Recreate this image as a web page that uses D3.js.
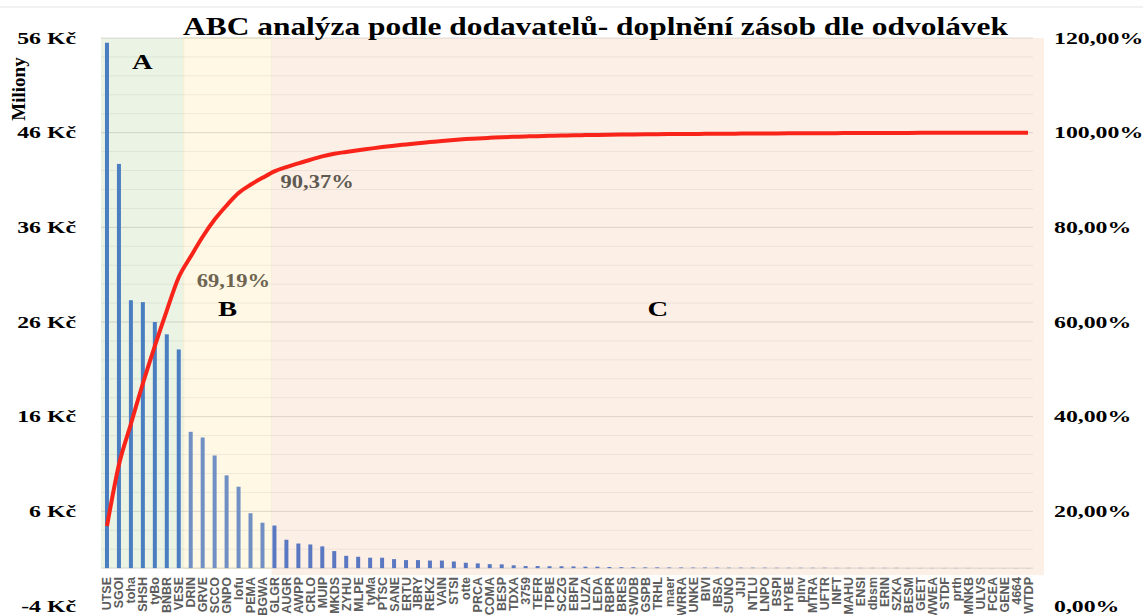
<!DOCTYPE html>
<html>
<head>
<meta charset="utf-8">
<script src="https://cdn.jsdelivr.net/npm/d3@7"></script>
<style>
  body { margin: 0; background: #fff; }
  svg { display: block; }
</style>
</head>
<body>
<svg id="chart" width="1143" height="615"></svg>
<script>
// dodavatelé seřazeni podle objemu (miliony Kč)
const categories = [
  'UTSE','SGOI','toha','SHSH','tyBo','BNBR','VESE','DRIN','GRVE','SCCO',
  'GNPO','lofu','PEMA','BGWA','GLGR','AUGR','AWPP','CRLO','MUIP','MKDS',
  'ZYHU','MLPE','tyMa','PTSC','SANE','ERTU','JBRY','REKZ','VAIN','STSI',
  'otte','PRCA','COMA','BESP','TDXA','3759','TEFR','TPBE','SCZG','EBFN',
  'LUZA','LEDA','RBPR','BRES','SWDB','GSPB','TRHL','maer','WRRA','UNKE',
  'BIVI','IBSA','SUNO','JIJI','NTLU','LNPO','BSPI','HYBE','plnv','MTRA',
  'UFTR','INFT','MAHU','ENSI','dbsm','ERIN','SZKA','BESM','GEET','WWEA',
  'STDF','prth','MNKB','ULVS','FCEA','GENE','4664','WTDP'
]
const values = [
  55.5, 42.7, 28.3, 28.1, 26.0, 24.7, 23.1, 14.4, 13.8, 11.9,
  9.8, 8.6, 5.8, 4.8, 4.5, 3.0, 2.6, 2.5, 2.3, 1.8,
  1.3, 1.2, 1.1, 1.1, 0.95, 0.85, 0.85, 0.8, 0.8, 0.7,
  0.57, 0.5, 0.42, 0.4, 0.3, 0.22, 0.22, 0.2, 0.2, 0.18,
  0.15, 0.15, 0.12, 0.1, 0.09, 0.08, 0.08, 0.07, 0.07, 0.06,
  0.06, 0.06, 0.05, 0.05, 0.05, 0.05, 0.04, 0.04, 0.04, 0.04,
  0.04, 0.03, 0.03, 0.03, 0.03, 0.03, 0.03, 0.02, 0.02, 0.02,
  0.02, 0.02, 0.02, 0.01, 0.01, 0.01, 0.01, 0.01
]
const leftTicks = [-4, 6, 16, 26, 36, 46, 56]
const rightTicks = [0, 0.2, 0.4, 0.6, 0.8, 1.0, 1.2]
const zoneNames = ['A', 'B', 'C']
const zoneLast = ['VESE', 'BGWA', 'WTDP']
const cumLabels = ['69,19%', '90,37%']

const title = 'ABC analýza podle dodavatelů- doplnění zásob dle odvolávek'

const svg = d3.select('#chart')
const serif = '"Liberation Serif", "Times New Roman", serif'

let x = d3.scaleBand().domain(categories).range([101, 1034])
let bw = x.bandwidth()
let cx = c => x(c) + bw / 2
let yL = d3.scaleLinear().domain([-4, 56]).range([606, 38])
let yR = d3.scaleLinear().domain([0, 1.2]).range([606, 38])

let total = d3.sum(values)
let run = 0
let cum = values.map(v => (run += v) / total)

// text helper, the original fonts are wider than Times
function txt(x0, y0, s, size, sx, anchor, fill) {
  return svg.append('text')
    .attr('transform', `translate(${x0},${y0}) scale(${sx},1)`)
    .attr('text-anchor', anchor)
    .attr('font-family', serif)
    .attr('font-weight', 'bold')
    .attr('font-size', size)
    .attr('fill', fill || '#000')
    .text(s)
}

// top hairline
svg.append('line')
  .attr('x1', 0).attr('x2', 1143).attr('y1', 7).attr('y2', 7)
  .attr('stroke', '#e3e3e3')

// zones
let zoneFill = ['#ebf3e4', '#fef8e5', '#fcefe6']
let barFill = ['#4a7ec0', '#7090c4', '#5a78c2']
let edges = [x.range()[0]]
zoneLast.forEach((c, i) => edges.push(i === 2 ? 1044 : x(c) + x.step() + (i === 1 ? 3 : -1)))
let zoneOf = categories.map((c, i) => zoneLast.findIndex(z => categories.indexOf(z) >= i))

zoneNames.forEach((z, i) => {
  svg.append('rect')
    .attr('x', edges[i]).attr('y', yL(56))
    .attr('width', edges[i + 1] - edges[i])
    .attr('height', (i === 2 ? yL(0) + 7 : yL(0)) - yL(56))
    .attr('fill', zoneFill[i])
    .attr('stroke', i === 1 ? '#f5eecd' : 'none')
})

// grid
let grid = svg.append('g')
d3.range(0, 57, 2).forEach(v => {
  let major = (v - 6) % 10 === 0
  grid.append('line')
    .attr('x1', 101).attr('x2', 1033)
    .attr('y1', yL(v)).attr('y2', yL(v))
    .attr('stroke', '#000')
    .attr('stroke-opacity', major || v === 0 ? 0.13 : 0.06)
})

// bars
svg.append('g')
  .selectAll('rect')
  .data(values)
  .join('rect')
  .attr('x', (d, i) => cx(categories[i]) - 2)
  .attr('width', 4)
  .attr('y', d => yL(d))
  .attr('height', d => yL(0) - yL(d))
  .attr('fill', (d, i) => barFill[zoneOf[i]])

// cumulative line
let line = d3.line()
  .x((d, i) => cx(categories[i]))
  .y(d => yR(d))
  .curve(d3.curveMonotoneX)
svg.append('path')
  .datum(cum)
  .attr('d', line)
  .attr('fill', 'none')
  .attr('stroke', '#f8241a')
  .attr('stroke-width', 4)
  .attr('stroke-linejoin', 'round')

// category labels
svg.append('g')
  .selectAll('text')
  .data(categories)
  .join('text')
  .attr('transform', d => `translate(${cx(d)},577) rotate(-90)`)
  .attr('dy', '0.36em')
  .attr('text-anchor', 'end')
  .attr('font-family', '"Liberation Sans", Arial, sans-serif')
  .attr('font-weight', 'bold')
  .attr('font-size', 12.5)
  .attr('fill', '#5c5c5c')
  .text(d => d)

// axes
leftTicks.forEach(v => txt(76, yL(v) + 5.5, `${v} Kč`, 17.5, 1.36, 'end'))
let pct = d3.format('.2f')
rightTicks.forEach(v => txt(1054, yR(v) + 5.5, pct(v * 100).replace('.', ',') + '%', 17.5, 1.36, 'start'))

svg.append('text')
  .attr('transform', 'translate(25,89) rotate(-90)')
  .attr('text-anchor', 'middle')
  .attr('font-family', serif)
  .attr('font-weight', 'bold')
  .attr('font-size', 19)
  .text('Miliony')

// title
svg.append('text')
  .attr('x', 595.5).attr('y', 35)
  .attr('text-anchor', 'middle')
  .attr('font-family', serif)
  .attr('font-weight', 'bold')
  .attr('font-size', 25)
  .attr('textLength', 825)
  .attr('lengthAdjust', 'spacingAndGlyphs')
  .text(title)

// zone letters
zoneNames.forEach((z, i) => {
  let zx = (edges[i] + edges[i + 1]) / 2
  txt(zx, i === 0 ? 69 : 316, z, 22, 1.3, 'middle')
})

// cumulative labels at zone ends
cumLabels.forEach((s, i) => {
  let k = categories.indexOf(zoneLast[i])
  txt(cx(zoneLast[i]) + 18, yR(cum[k]) + 10, s, 18.5, 1.22, 'start', i === 0 ? '#6e6452' : '#5e5a52')
})
</script>
</body>
</html>
